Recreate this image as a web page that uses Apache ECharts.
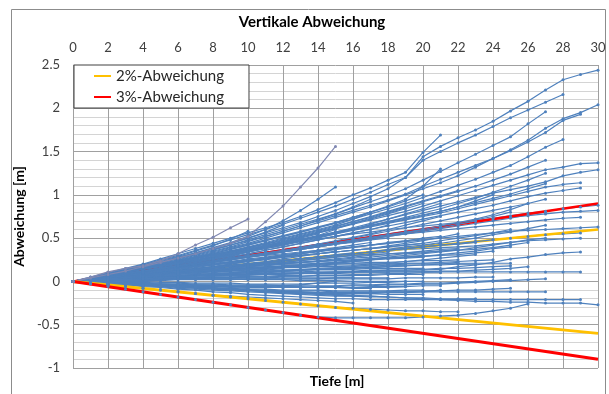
<!DOCTYPE html>
<html><head><meta charset="utf-8">
<script src="https://cdn.jsdelivr.net/npm/echarts@6/dist/echarts.min.js"></script>
<style>html,body{margin:0;padding:0;background:#fff}#c{width:609px;height:394px}</style>
</head><body><div id="c"></div>
<script>
// reference lines (depth 0 and 30 m)
const refDepths = [0, 30];
const dev2pos = [0, 0.6];
const dev2neg = [0, -0.6];
const dev3pos = [0, 0.9];
const dev3neg = [0, -0.9];

// borehole deviations, one value per metre of depth starting at 0 m
const hole01 = [0,.04,.09,.14,.19,.25,.30,.36,.42,.48,.54,.60,.66,.73,.80,.87,.95,1.03,1.12,1.20,1.44,1.56,1.66,1.75,1.85,1.97,2.08,2.21,2.33,2.39,2.44];
const hole02 = [0,.05,.10,.15,.20,.26,.32,.38,.44,.50,.56,.62,.68,.75,.83,.91,1.00,1.08,1.17,1.26,1.49,1.69];
const hole03 = [0,.04,.08,.12,.17,.22,.27,.32,.38,.44,.50,.56,.62,.68,.75,.82,.90,.98,1.07,1.20,1.40,1.50,1.60,1.69,1.79,1.89,1.98,2.07,2.16];
const hole04 = [0,.03,.07,.11,.15,.19,.24,.29,.34,.39,.44,.50,.56,.62,.68,.74,.80,.86,.93,1.00,1.07,1.14,1.22,1.32,1.42,1.52,1.63,1.77,1.88,1.95,2.04];
const hole05 = [0,.03,.07,.11,.15,.20,.25,.30,.35,.40,.46,.52,.58,.64,.70,.76,.82,.88,.94,1.01,1.10,1.18,1.26,1.34,1.42,1.51,1.61,1.72,1.86,1.93];
const hole06 = [0,.04,.08,.12,.16,.21,.26,.31,.36,.42,.48,.54,.60,.66,.72,.78,.85,.92,.99,1.07,1.17,1.27,1.37,1.47,1.57,1.67,1.82,1.96];
const hole07 = [0,.03,.06,.10,.14,.18,.22,.27,.32,.37,.42,.47,.52,.57,.62,.67,.72,.78,.84,.90,.97,1.04,1.11,1.18,1.26,1.34,1.44,1.55,1.64];
const hole08 = [0,.03,.06,.09,.13,.17,.21,.25,.29,.34,.39,.44,.49,.54,.59,.64,.69,.74,.80,.86,.92,.98,1.04,1.10,1.17,1.24,1.32,1.40];
const hole09 = [0,.03,.06,.09,.12,.16,.20,.24,.28,.32,.36,.41,.46,.51,.56,.61,.66,.71,.76,.81,.87,.93,.99,1.05,1.11,1.17,1.23,1.29,1.32,1.36,1.37];
const hole10 = [0,.02,.05,.08,.11,.14,.18,.22,.26,.30,.34,.38,.42,.47,.52,.57,.62,.67,.72,.77,.82,.87,.92,.97,1.02,1.06,1.10,1.15,1.22,1.26,1.29];
const hole11 = [0,.03,.06,.09,.12,.15,.19,.23,.27,.31,.35,.39,.43,.47,.51,.55,.59,.63,.67,.71,.75,.79,.84,.89,.94,.99,1.04,1.09,1.12,1.14];
const hole12 = [0,.02,.05,.08,.11,.14,.17,.20,.24,.28,.32,.36,.40,.44,.48,.52,.56,.60,.64,.68,.72,.76,.80,.84,.88,.93,.98,1.02,1.05,1.08];
const hole13 = [0,.03,.06,.09,.12,.16,.20,.24,.28,.32,.36,.40,.44,.48,.52,.56,.60,.64,.69,.74,.79,.84,.90,.96,1.03,1.10,1.17,1.25];
const hole14 = [0,.04,.08,.12,.17,.22,.27,.32,.38,.44,.52,.69,.87,1.09,1.31,1.56];
const hole15 = [0,.04,.08,.12,.17,.22,.27,.33,.39,.45,.52,.60,.70,.82,.95,1.09];
const hole16 = [0,.05,.11,.15,.18,.24,.32,.42,.51,.62,.72];
const hole17 = [0,.03,.07,.10,.13,.16,.19,.22,.25,.28,.31,.34,.37,.40,.43,.46,.49,.52,.55,.58,.61,.64,.67,.70,.73,.76,.79,.81,.84,.86,.88];
const hole18 = [0,.04,.08,.12,.16,.20,.24,.28,.31,.34,.37,.40,.43,.46,.49,.52,.55,.57,.60,.62,.64,.66,.68,.70,.72,.74,.76,.78,.80,.81,.82];
const hole19 = [0,.02,.04,.07,.10,.13,.16,.19,.22,.25,.28,.31,.34,.37,.40,.43,.46,.49,.52,.55,.57,.59,.61,.63,.65,.67,.69,.71,.73,.74];
const hole20 = [0,.03,.06,.09,.12,.15,.18,.21,.24,.26,.28,.30,.32,.34,.36,.38,.40,.42,.44,.46,.48,.50,.52,.54,.56,.58,.59,.60,.61,.62,.63];
const hole21 = [0,.02,.04,.06,.08,.10,.12,.14,.16,.18,.20,.22,.24,.26,.28,.30,.32,.34,.36,.38,.40,.42,.44,.46,.48,.50,.52,.54,.55,.56];
const hole22 = [0,.01,.03,.05,.07,.09,.11,.13,.15,.17,.19,.21,.23,.25,.27,.29,.31,.33,.35,.37,.38,.39,.40,.41,.43,.45,.47,.48,.49,.50];
const hole23 = [0,.01,.02,.03,.04,.05,.06,.07,.08,.09,.10,.10,.11,.11,.12,.12,.12,.13,.13,.13,.13,.14,.17,.19,.22,.26,.28,.31,.33,.34];
const hole24 = [0,.01,.02,.03,.04,.05,.06,.06,.07,.08,.08,.09,.09,.10,.10,.10,.11,.11,.11,.11,.11,.11,.11,.11,.11,.11,.11,.11,.11,.11];
const hole25 = [0,-.01,-.02,-.03,-.04,-.05,-.06,-.07,-.08,-.09,-.10,-.11,-.12,-.13,-.14,-.15,-.16,-.17,-.18,-.19,-.20,-.21,-.22,-.23,-.23,-.24,-.24,-.25,-.25,-.25,-.27];
const hole26 = [0,-.01,-.03,-.04,-.06,-.07,-.09,-.10,-.12,-.13,-.15,-.16,-.17,-.18,-.19,-.20,-.20,-.21,-.21,-.21,-.21,-.21,-.21,-.21,-.21,-.21,-.21,-.21,-.21,-.21];
const hole27 = [0,-.03,-.06,-.09,-.12,-.15,-.18,-.21,-.24,-.27,-.30,-.33,-.36,-.39,-.41,-.42,-.42,-.42,-.42,-.42,-.41,-.40,-.39,-.37,-.34,-.31,-.26];
const hole28 = [0,.00,-.01,-.02,-.03,-.04,-.05,-.05,-.06,-.06,-.07,-.07,-.07,-.07,-.06,-.06,-.05,-.05,-.04,-.04,-.03,-.03,-.02,-.01,0,.01,.02,.03];
const hole29 = [0,.01,.02,.03,.04,.05,.06,.07,.08,.08,.09,.09,.10,.10,.10,.10,.11,.11,.11,.11,.11,.12,.12,.13,.14,.15,.17];
const hole30 = [0,.03,.06,.09,.12,.15,.18,.21,.24,.27,.30,.33,.36,.39,.42,.46,.50,.54,.58,.62,.66,.70,.74,.78,.82,.86,.90,.95];
const hole31 = [0,.02,.04,.07,.10,.13,.16,.19,.22,.25,.28,.31,.34,.37,.40,.43,.46,.49,.52,.55,.58,.61,.64,.67,.70,.73,.77,.80];
const hole32 = [0,.02,.04,.06,.08,.10,.12,.14,.16,.18,.20,.22,.24,.26,.28,.29,.30,.31,.32,.33,.34,.35,.36,.37,.39,.42,.45];
const hole33 = [0,.00,.00,-.01,-.01,-.02,-.02,-.03,-.03,-.04,-.04,-.04,-.05,-.05,-.05,-.05,-.04,-.04,-.03,-.03,-.02,-.02,-.01,0,.01,.02];
const hole34 = [0,.03,.07,.11,.15,.19,.23,.27,.31,.35,.39,.43,.47,.52,.57,.62,.67,.72,.78,.84,.90];
const hole35 = [0,.02,.05,.08,.11,.14,.17,.20,.23,.26,.29,.32,.35,.38,.41,.44,.47,.50,.53,.56,.60];
const hole36 = [0,.02,.04,.06,.08,.10,.12,.13,.14,.15,.16,.17,.18,.19,.20,.21,.23,.25,.27,.28,.30];
const hole37 = [0,.01,.01,.00,.00,-.01,-.01,-.02,-.02,-.02,-.03,-.03,-.03,-.03,-.02,-.02,-.02,-.01,-.01,0,0];
const hole38 = [0,.04,.08,.12,.16,.20,.24,.28,.32,.37,.42,.47,.52,.57,.62,.68,.74,.80,.87,.95,1.10,1.30];
const hole39 = [0,.02,.04,.06,.08,.10,.12,.14,.16,.18,.20,.22,.24,.26,.28,.30,.32,.34,.37,.40,.42,.45];
const hole40 = [0,-.01,-.02,-.03,-.04,-.05,-.06,-.07,-.08,-.09,-.10,-.11,-.12,-.13,-.13,-.14,-.14,-.14,-.13,-.13,-.12,-.10];
const hole41 = [0,.02,.05,.08,.11,.14,.17,.20,.23,.26,.29,.32,.35,.38,.41,.44,.47,.50,.53,.56,.59,.62,.66,.70];
const hole42 = [0,.01,.02,.04,.06,.08,.10,.11,.12,.13,.14,.15,.16,.16,.17,.17,.18,.18,.18,.19,.19,.19,.20,.20];
const hole43 = [0,.03,.06,.09,.12,.16,.20,.24,.28,.32,.36,.40,.44,.48,.52,.56,.60,.64,.68,.72,.76,.81,.86,.93,1.00];
const hole44 = [0,.02,.04,.06,.08,.10,.12,.14,.17,.20,.23,.26,.28,.30,.32,.34,.36,.38,.40,.42,.44,.47,.50,.53,.56,.60];
const hole45 = [0,-.01,-.02,-.03,-.04,-.05,-.06,-.07,-.08,-.09,-.10,-.11,-.12,-.12,-.13,-.13,-.13,-.13,-.12,-.12,-.11,-.11,-.10,-.10,-.09,-.08];
const hole46 = [0,.02,.04,.07,.10,.13,.16,.19,.22,.25,.28,.31,.34,.37,.40,.43,.45,.48,.50];
const hole47 = [0,.01,.02,.03,.04,.05,.06,.06,.07,.07,.08,.08,.08,.09,.09,.09,.10,.10,.10];
const hole48 = [0,.03,.07,.11,.15,.19,.23,.27,.31,.35,.40,.45,.50,.55,.60,.65,.72,.80];
const hole49 = [0,.02,.04,.06,.08,.10,.12,.14,.16,.18,.20,.21,.22,.24,.26,.28,.30];
const hole50 = [0,.00,-.01,-.02,-.03,-.04,-.05,-.05,-.06,-.06,-.06,-.06,-.05,-.04,-.02,.00];
const hole51 = [0,.03,.06,.09,.12,.15,.18,.22,.26,.30,.34,.38,.42,.47,.53,.60];
const hole52 = [0,.03,.06,.09,.12,.15,.19,.23,.27,.31,.35,.40,.45,.50];
const hole53 = [0,.01,.02,.03,.04,.05,.06,.07,.09,.10,.12,.13,.15];
const hole54 = [0,-.01,-.02,-.02,-.03,-.03,-.04,-.04,-.05,-.05,-.05,-.05,-.05];
const hole55 = [0,.02,.05,.08,.11,.14,.17,.20,.23,.27,.30];
const hole56 = [0,.01,.02,.02,.03,.03,.04,.04,.05,.05,.05];
const hole57 = [0,-.02,-.04,-.06,-.08,-.10,-.12,-.14,-.16,-.18,-.20,-.22,-.24,-.26,-.28,-.30,-.31,-.32,-.33,-.34,-.34,-.35,-.35];
const hole58 = [0,-.01,-.02,-.03,-.04,-.05,-.06,-.07,-.08,-.09,-.10,-.11,-.12,-.12,-.13,-.13,-.14,-.14,-.15,-.15,-.15];
const hole59 = [0,.01,.03,.05,.07,.09,.11,.13,.15,.17,.19,.20,.21,.22,.23,.24,.25,.26,.27,.28,.29,.30,.31,.33,.35];
const hole60 = [0,.03,.06,.09,.12,.15,.18,.21,.24,.27,.30,.33,.36,.39,.42,.45,.48,.51,.54,.57,.60,.64,.68,.72,.77,.83,.90];
const hole61 = [0,.04,.09,.14,.19,.24,.29,.35,.41,.49,.58];
const hole62 = [0,.04,.08,.13,.18,.23,.28,.33,.38,.44,.50,.57,.65];
const hole63 = [0,.01,.02,.02,.03,.03,.03,.03,.03,.03,.02,.02,.02,.01,.01,.01,.00,.00,.00,.00];
const hole64 = [0,.02,.04,.06,.08,.10,.11,.12,.13,.14,.15,.16,.17,.18,.20,.22,.24,.26,.28,.30,.32,.34,.36,.39,.42,.45,.48,.50];
const hole65 = [0,.03,.06,.09,.13,.17,.21,.25,.29,.33,.37,.41,.45,.49,.53,.57,.61,.65,.69,.73,.77,.81,.86,.91,.96,1.01,1.07,1.13];
const hole66 = [0,.02,.04,.06,.08,.10,.12,.14,.16,.17,.18,.19,.20,.20,.21,.21,.21,.21,.21,.21,.21,.21,.21,.21,.21,.21];
const hole67 = [0,.03,.07,.11,.15,.19,.23,.27,.31,.35,.39,.43,.48,.53,.58,.63,.69,.75,.81,.87,.93,.99,1.05];
const hole68 = [0,.04,.08,.12,.16,.20,.24,.28,.33,.38,.43,.48,.53,.58,.63,.68,.74,.80,.86,.93,1.00];
const hole69 = [0,.03,.06,.10,.14,.18,.22,.26,.30,.34,.38,.42,.46,.51,.56,.61,.67,.73,.79,.85];
const hole70 = [0,.04,.08,.12,.17,.22,.27,.32,.37,.42,.47,.52,.58,.64,.71,.78,.86,.95];
const hole71 = [0,.02,.05,.08,.11,.14,.17,.20,.23,.26,.29,.32,.35,.39,.43,.47,.51,.55,.60,.65,.70,.75];
const hole72 = [0,.02,.04,.06,.08,.10,.12,.14,.16,.18,.20,.22,.24,.26,.28,.30,.32,.34,.36,.38,.40,.42,.43,.45];
const hole73 = [0,.01,.03,.05,.07,.09,.11,.12,.13,.14,.15,.16,.17,.18,.19,.20,.21,.22,.22,.23,.24,.24,.25];
const hole74 = [0,.02,.03,.05,.06,.08,.09,.10,.11,.12,.12,.13,.13,.13,.14,.14,.14,.15,.15,.15,.15];
const hole75 = [0,.01,.01,.02,.02,.02,.03,.03,.03,.03,.03,.03,.03,.03,.03,.03,.03,.03,.03,.04,.04,.04,.04,.05,.05];
const hole76 = [0,-.01,-.01,-.02,-.03,-.03,-.04,-.05,-.05,-.06,-.06,-.07,-.07,-.07,-.07,-.07,-.07,-.06,-.06,-.06,-.05,-.05];
const hole77 = [0,-.01,-.03,-.04,-.05,-.06,-.07,-.08,-.09,-.10,-.11,-.12,-.13,-.14,-.15,-.16,-.17,-.17,-.18];
const hole78 = [0,-.02,-.04,-.06,-.08,-.10,-.12,-.14,-.16,-.17,-.18,-.19,-.20,-.21,-.22,-.23,-.25];
const hole79 = [0,-.01,-.02,-.03,-.04,-.05,-.06,-.07,-.08,-.09,-.10,-.10,-.11,-.11,-.11,-.12,-.12,-.12,-.12,-.12,-.12,-.12,-.12,-.12,-.12,-.12,-.12,-.12];
const hole80 = [0,.02,.04,.06,.08,.10,.11,.12,.13,.14,.15,.16,.17,.18,.18,.19,.19,.20,.20,.21,.21,.22,.23,.24,.25];
const hole81 = [0,.02,.04,.06,.08,.10,.12,.14,.16,.18,.19,.20,.21,.22,.23,.24,.25,.26,.27,.28,.29,.31,.33,.35,.38,.40];
const hole82 = [0,.02,.04,.06,.08,.10,.12,.14,.16,.18,.20,.22,.24,.26,.28,.30,.32,.34,.36,.38,.40];
const hole83 = [0,.01,.02,.03,.04,.05,.06,.07,.08,.09,.10,.11,.12,.13,.14,.15,.16,.17,.19,.20];
const hole84 = [0,.02,.04,.07,.09,.11,.13,.15,.17,.19,.21,.23,.26,.29,.32,.35];
const hole85 = [0,.02,.04,.05,.07,.08,.10,.11,.12,.13,.14,.15,.17,.18,.20];
const hole86 = [0,-.01,-.02,-.03,-.04,-.05,-.06,-.07,-.08,-.09,-.10,-.12,-.13,-.15];
const hole87 = [0,.03,.06,.09,.12,.15,.18,.21,.25,.29,.34,.40];
const hole88 = [0,.02,.03,.05,.06,.08,.09,.10,.12,.13,.15];
const hole89 = [0,-.01,-.02,-.03,-.03,-.04,-.05,-.06,-.06,-.07,-.08];
const hole90 = [0,.02,.05,.08,.11,.14,.17,.20,.24,.28,.32,.36,.40,.44,.48,.52,.56,.60,.65];
const hole91 = [0,.03,.06,.09,.12,.14,.16,.18,.20,.22,.24,.26,.28,.30,.32,.34,.36,.38,.41,.44,.47,.51,.55];
const hole92 = [0,.02,.04,.06,.08,.10,.12,.14,.16,.18,.20,.22,.24,.26,.28,.30,.32,.34,.36,.38,.41,.44,.47,.50,.54,.57,.61,.65];
const hole93 = [0,.03,.06,.09,.12,.15,.18,.21,.24,.27,.30,.33,.36,.39,.42,.45,.48,.51,.54,.57,.60,.63,.67,.71,.75,.80];
const hole94 = [0,.01,.01,.02,.02,.03,.03,.03,.04,.04,.04,.04,.05,.05,.05,.05,.05];
const hole95 = [0,-.01,-.02,-.04,-.05,-.06,-.08,-.09,-.10,-.11,-.12,-.13,-.14,-.15,-.16,-.17,-.17,-.18,-.18,-.19,-.19,-.20,-.20,-.20];
const hole96 = [0,.01,.02,.03,.03,.04,.04,.05,.05,.05,.06,.06,.06,.06,.07,.07,.07,.07,.08,.08,.08];
const hole97 = [0,.02,.05,.08,.10,.13,.16,.18,.21,.23,.26,.28,.31,.33,.36,.39,.42,.45];
const hole98 = [0,.03,.07,.10,.14,.17,.21,.25,.29,.33,.37,.41,.45,.50,.55];
const hole99 = [0,.02,.04,.06,.08,.10,.12,.15,.17,.20,.23,.26,.30];
const hole100 = [0,.03,.06,.09,.12,.15,.18,.22,.26,.30,.34,.38,.42,.46,.50,.55,.60,.66,.72,.78,.84,.90];
const hole101 = [0,.01,.03,.04,.06,.07,.09,.10,.12,.13,.15,.16,.18,.19,.21,.22,.23,.25,.26,.27,.28];
const hole102 = [0,.02,.03,.05,.07,.09,.10,.12,.14,.15,.17,.19,.21,.22,.24,.26,.28,.30,.32,.33,.35,.37,.38];
const hole103 = [0,.01,.02,.03,.05,.06,.07,.08,.09,.10,.11,.12,.12,.13,.14,.15,.16,.16,.17,.18];
const hole104 = [0,.00,.01,.01,.02,.02,.03,.03,.04,.04,.05,.05,.06,.06,.07,.07,.08,.08,.09,.09,.10,.10];
const hole105 = [0,-.01,-.01,-.02,-.02,-.03,-.03,-.04,-.04,-.05,-.05,-.05,-.06,-.06,-.07,-.07,-.08,-.08];
const hole106 = [0,-.01,-.02,-.03,-.04,-.05,-.06,-.07,-.07,-.08,-.09,-.09,-.10,-.10,-.10,-.11,-.11,-.11,-.11,-.10,-.10];
const hole107 = [0,.02,.04,.06,.08,.10,.12,.14,.16,.18,.20,.22,.24,.26,.28,.31,.33];
const hole108 = [0,.01,.03,.04,.05,.07,.08,.09,.10,.12,.13,.14,.16,.17,.18];
const hole109 = [0,.02,.04,.05,.07,.09,.11,.13,.14,.16,.18,.20,.22,.24,.26,.28,.30,.32,.34];
const hole110 = [0,.01,.02,.04,.05,.06,.07,.08,.08,.09,.10,.11,.12,.13,.14,.14,.15,.16,.17,.18,.19,.20,.22];
const hole111 = [0,.02,.05,.07,.10,.12,.14,.17,.19,.22,.24,.27,.29,.32,.35,.38];
const hole112 = [0,.02,.05,.07,.09,.12,.14,.16,.19,.21,.23,.25,.28,.30,.32,.34,.36,.38,.40,.42,.44];
const hole113 = [0,.01,.01,.02,.03,.03,.04,.04,.05,.05,.06,.06,.07,.07];
const hole114 = [0,-.01,-.01,-.02,-.03,-.04,-.04,-.05,-.05,-.06,-.06,-.06,-.07,-.07,-.07,-.07,-.07,-.07,-.07,-.06];
const hole115 = [0,.01,.02,.03,.05,.06,.07,.08,.09,.10,.11,.12,.13,.14,.15,.16,.17,.19,.21,.23,.25,.27,.29,.31];
const hole116 = [0,.02,.04,.06,.08,.10,.12,.14,.16,.18,.20,.22,.24,.26,.28,.30,.32,.34,.36,.38,.40,.42,.44,.46,.48];
const hole117 = [0,.02,.04,.06,.08,.10,.12,.14,.16,.18,.20,.22];
const hole118 = [0,.03,.05,.08,.10,.13,.15,.18,.20,.23,.25,.27,.30,.32,.35,.37,.40,.42,.45,.47,.50,.52];
const hole119 = [0,.00,.00,.01,.01,.01,.02,.02,.02,.02,.03,.03,.03,.03,.03,.04,.04,.04,.04];
const hole120 = [0,-.01,-.02,-.03,-.04,-.05,-.06,-.07,-.08,-.09,-.10,-.11,-.12,-.13,-.14,-.15,-.16];
const hole121 = [0,.02,.04,.07,.09,.12,.14,.17,.19,.22,.24,.27,.29,.32,.34,.37,.39,.42,.44,.47,.49];
const hole122 = [0,.02,.03,.05,.07,.08,.10,.12,.13,.15,.17,.18,.20,.22,.23,.25,.27,.28,.30,.32,.33,.35,.37];
const hole123 = [0,.01,.03,.04,.06,.07,.09,.10,.11,.13,.14,.16,.17,.19,.20,.21,.23,.24];
const hole124 = [0,.01,.02,.02,.03,.04,.05,.05,.06,.07,.07,.08,.09,.09,.10,.11,.11,.12,.13,.13,.14,.15,.15,.16,.17,.18];

const holesBack = [hole01,hole02,hole03,hole04,hole05,hole06,hole07,hole08,hole09,hole10,hole11,hole12,hole13,hole15,hole17,hole18,hole19,hole20,hole21,hole22,hole23,hole24,hole25,hole26,hole28,hole29,hole30,hole31,hole32,hole33,hole92,hole93,hole65,hole64];
const holesFront = [hole34,hole35,hole36,hole37,hole38,hole39,hole40,hole41,hole42,hole43,hole44,hole45,hole46,hole47,hole48,hole49,hole50,hole51,hole52,hole53,hole54,hole55,hole56,hole57,hole58,hole59,hole60,hole61,hole62,hole63,hole66,
  hole67,hole68,hole69,hole70,hole71,hole72,hole73,hole74,hole75,hole76,hole77,hole78,hole79,hole80,hole81,hole82,hole83,hole84,hole85,hole86,hole87,hole88,hole89,hole90,hole91,hole94,hole95,hole96,hole97,hole98,hole99,hole100,
  hole101,hole102,hole103,hole104,hole105,hole106,hole107,hole108,hole109,hole110,hole111,hole112,hole113,hole114,hole115,hole116,hole117,hole118,hole119,hole120,hole121,hole122,hole123,hole124,hole27];
const holesGray = [hole14, hole16];

const BLUE = '#4f81bd';
const GRAY = '#8088b2';
function holeSeries(arr, color) {
  return {
    type: 'line', data: arr.map((v, i) => [i, v]),
    lineStyle: { color: color, width: 1.2 }, itemStyle: { color: color },
    symbol: 'circle', symbolSize: 3, showSymbol: true, silent: true, z: 2
  };
}
function refSeries(name, vals, color, width) {
  return {
    name: name, type: 'line', data: refDepths.map((d, i) => [d, vals[i]]),
    lineStyle: { color: color, width: width }, itemStyle: { color: color },
    symbol: 'none', silent: true, z: 2
  };
}
const series = [];
holesBack.forEach(a => series.push(holeSeries(a, BLUE)));
series.push(refSeries('2%-Abweichung', dev2pos, '#ffc000', 2.5));
series.push(refSeries('3%-Abweichung', dev3pos, '#ff0000', 2.5));
holesFront.forEach(a => series.push(holeSeries(a, BLUE)));
holesGray.forEach(a => series.push(holeSeries(a, GRAY)));
series.push(refSeries('2%-Abweichung', dev2neg, '#ffc000', 3));
series.push(refSeries('3%-Abweichung', dev3neg, '#ff0000', 3));

const chart = echarts.init(document.getElementById('c'), null, { renderer: 'canvas' });
chart.setOption({
  animation: false,
  backgroundColor: '#fff',
  textStyle: { fontFamily: 'Lato' },
  grid: { left: 73, right: 11, top: 65, bottom: 26 },
  legend: {
    data: [{ name: '2%-Abweichung', icon: 'rect' }, { name: '3%-Abweichung', icon: 'rect' }],
    orient: 'vertical', left: 74, top: 65,
    itemWidth: 17, itemHeight: 2, itemGap: 3,
    padding: [2, 25, 2, 20],
    borderColor: '#404040', borderWidth: 1, backgroundColor: '#fff',
    textStyle: { fontFamily: 'Lato', fontSize: 15, color: '#262626', lineHeight: 18 },
    selectedMode: false
  },
  xAxis: {
    type: 'value', position: 'top', min: 0, max: 30, interval: 2,
    axisLine: { show: false, onZero: false }, axisTick: { show: false },
    axisLabel: { fontFamily: 'Lato', fontSize: 13, color: '#404040', margin: 11 },
    splitLine: { show: true, lineStyle: { color: '#a0a0a0', width: 1 } }
  },
  yAxis: {
    type: 'value', min: -1, max: 2.5, interval: 0.5,
    name: 'Abweichung [m]', nameLocation: 'middle', nameGap: 40,
    nameTextStyle: { fontFamily: 'Lato', fontSize: 14, fontWeight: 'bold', color: '#000' },
    axisLine: { show: true, onZero: false, lineStyle: { color: '#a0a0a0' } }, axisTick: { show: false },
    axisLabel: { fontFamily: 'Lato', fontSize: 13, color: '#404040', margin: 13 },
    splitLine: { show: true, lineStyle: { color: '#a0a0a0', width: 1 } },
    minorTick: { show: false, splitNumber: 5 },
    minorSplitLine: { show: true, lineStyle: { color: '#d4d4d4', width: 1 } }
  },
  graphic: [
    { type: 'rect', left: 9, top: 7, z: -10, silent: true,
      shape: { x: 0.5, y: 0.5, width: 594, height: 400 },
      style: { fill: 'none', stroke: '#8c8c8c', lineWidth: 1 } },
    { type: 'text', x: 312, y: 22, silent: true,
      style: { text: 'Vertikale Abweichung', font: 'bold 15px Lato', fill: '#000', textAlign: 'center', textVerticalAlign: 'middle' } },
    { type: 'text', x: 337, y: 381, silent: true,
      style: { text: 'Tiefe [m]', font: 'bold 14px Lato', fill: '#000', textAlign: 'center', textVerticalAlign: 'middle' } }
  ],
  series: series
});
</script></body></html>
